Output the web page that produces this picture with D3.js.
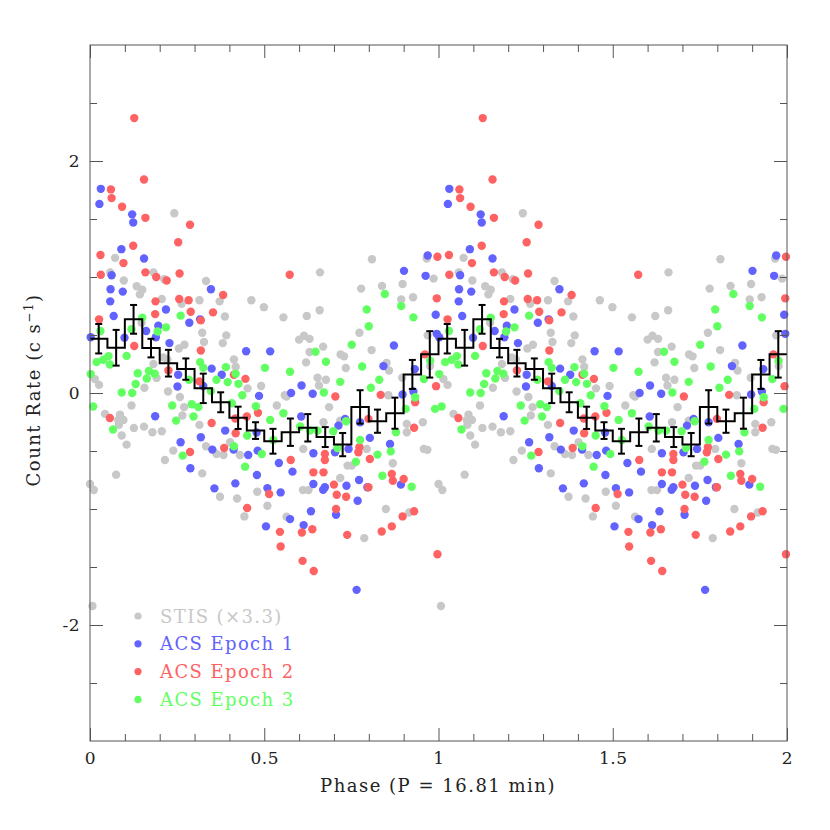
<!DOCTYPE html>
<meta charset="utf-8">
<head>
<style>
body{margin:0;background:#fff;}
text{font-family:"DejaVu Serif",serif;}
.tick line{stroke:#555;}
.tick text{font-size:17px;fill:#222;letter-spacing:0.5px;}
.frame{fill:none;stroke:#555;stroke-width:1;}
.hist{fill:none;stroke:#000;stroke-width:2;}
.err{stroke:#000;stroke-width:2;}
.lab{font-size:18px;fill:#222;letter-spacing:1.5px;}
.leg{font-size:18px;letter-spacing:1.4px;}
</style>
</head>
<body>
<script src="https://d3js.org/d3.v7.min.js"></script>
<script>

// phase-folded points for one cycle, [phase, count rate]; drawn twice (phase and phase+1)
var stis=[[0.242,1.55],[0.072,1.165],[0.097,0.97],[0.182,1.04],[0.213,0.98],[0.333,0.966],[0.058,1.04],
[0.134,0.92],[0.150,0.89],[0.143,0.85],[0.206,0.81],[0.314,0.80],[0.372,0.79],[0.463,0.80],[0.499,0.74],
[0.263,0.77],[0.387,0.66],[0.322,0.52],[0.391,0.497],[0.327,0.44],[0.381,0.43],[0.271,0.416],[0.255,0.384],
[0.413,0.29],[0.418,0.226],[0.222,0.29],[0.182,0.25],[0.191,0.13],[0.21,0.307],[0.014,0.12],[0.026,0.07],
[0.156,0.045],[0.452,0.04],[0.491,0.06],[0.224,0.013],[0.258,-0.035],[0.148,0.606],
[0.043,-0.18],[0.086,-0.186],[0.081,-0.232],[0.096,-0.232],[0.083,-0.275],[0.126,-0.301],[0.155,-0.29],
[0.179,-0.338],[0.206,-0.33],[0.091,-0.367],[0.105,-0.445],[0.119,-0.108],[0.27,-0.122],[0.265,-0.194],
[0.314,-0.275],[0.333,-0.459],[0.363,-0.526],[0.383,-0.534],[0.239,-0.497],[0.215,-0.577],[0.402,-0.425],
[0.43,-0.534],[0.075,-0.704],[0.0,-0.785],[0.011,-0.836],[0.322,-0.693],[0.373,-0.894],[0.422,-0.909],
[0.443,-1.064],[0.48,-0.851],[0.007,-1.836],
[0.809,1.153],[0.66,1.04],[0.555,0.652],[0.622,0.664],[0.659,0.713],[0.778,0.9],[0.838,0.923],[0.897,0.94],
[0.893,0.807],[0.927,0.825],[0.986,0.986],[0.966,1.16],[0.6,0.46],[0.614,0.494],[0.63,0.467],[0.669,0.4],
[0.773,0.52],[0.808,0.37],[0.63,0.353],[0.62,0.264],[0.719,0.332],[0.729,0.316],[0.734,0.215],[0.851,0.26],
[0.858,0.194],[0.653,0.131],[0.677,0.114],[0.657,0.065],[0.559,-0.02],[0.896,0.131],[0.969,0.497],
[0.976,0.232],[0.856,-0.02],
[0.564,-0.03],[0.536,-0.108],[0.686,-0.122],[0.67,-0.252],[0.612,-0.482],[0.718,-0.238],[0.794,-0.482],
[0.739,-0.626],[0.751,-0.626],[0.718,-0.733],[0.611,-0.837],[0.627,-0.837],[0.509,-0.972],[0.564,-1.067],
[0.787,-1.251],[0.849,-1.0],[0.916,-1.03],[0.869,-0.606],[0.909,-0.266],[0.909,-0.338],[0.958,-0.482],
[0.968,-0.49],[0.955,-0.252]];

var acs1=[[0.031,1.76],[0.027,1.63],[0.121,1.54],[0.124,1.47],[0.090,1.24],[0.155,1.16],[0.062,1.015],
[0.059,0.894],[0.094,0.874],[0.058,0.79],[0.347,0.894],[0.218,0.72],[0.068,0.664],[0.285,0.606],[0.316,0.635],
[0.161,0.535],[0.196,0.58],[0.002,0.48],[0.099,0.477],[0.228,0.43],[0.448,0.36],[0.349,0.21],[0.253,0.157],
[0.378,0.157],[0.251,0.056],[0.325,0.06],[0.485,-0.025],[0.189,0.48],
[0.187,-0.2],[0.388,-0.324],[0.26,-0.425],[0.318,-0.382],[0.351,-0.488],[0.412,-0.488],[0.454,-0.534],
[0.478,-0.341],[0.481,-0.497],[0.288,-0.649],[0.479,-0.707],[0.417,-0.779],[0.357,-0.822],[0.505,-1.15],
[0.969,1.185],[0.901,1.053],[0.963,1.01],[0.992,0.675],[0.995,0.51],[0.517,0.359],[0.872,0.41],[0.842,0.232],
[0.932,0.206],[0.607,0.065],[0.577,0.0],[0.639,-0.007],[0.897,-0.013],[0.928,0.013],
[0.606,-0.203],[0.713,-0.281],[0.732,-0.223],[0.775,-0.252],[0.803,-0.387],[0.861,-0.44],[0.742,-0.482],
[0.703,-0.511],[0.641,-0.52],[0.542,-0.603],[0.581,-0.678],[0.772,-0.75],[0.796,-0.813],[0.736,-0.799],
[0.674,-0.813],[0.669,-0.834],[0.641,-0.785],[0.892,-0.79],[0.509,-0.82],[0.547,-0.857],[0.768,-0.929],
[0.634,-1.02],[0.706,-1.05],[0.574,-1.087],[0.613,-1.139],[0.765,-1.697]];

var acs2=[[0.127,2.37],[0.155,1.84],[0.060,1.755],[0.062,1.68],[0.092,1.605],[0.159,1.51],[0.287,1.45],
[0.253,1.30],[0.124,1.27],[0.030,1.19],[0.096,1.12],[0.031,1.02],[0.159,1.04],[0.190,1.00],[0.220,0.97],
[0.257,1.03],[0.188,0.79],[0.256,0.81],[0.283,0.80],[0.289,0.70],[0.353,0.695],[0.382,0.845],[0.187,0.68],
[0.026,0.635],[0.318,0.626],[0.127,0.405],[0.318,0.367],[0.225,0.194],[0.413,0.157],[0.446,0.122],[0.314,0.10],
[0.057,-0.215],[0.349,-0.258],[0.45,-0.203],[0.482,-0.171],[0.417,-0.22],[0.418,-0.347],[0.287,-0.508],
[0.385,-0.474],[0.451,-0.992],
[0.573,1.02],[0.997,1.174],[0.995,0.816],[0.704,-0.03],[0.834,-0.016],[0.993,0.059],[0.961,0.333],
[0.933,-0.079],[0.799,-0.223],[0.773,-0.468],[0.77,-0.511],[0.674,-0.526],[0.674,-0.577],[0.803,-0.569],
[0.576,-0.577],[0.641,-0.684],[0.670,-0.684],[0.7,-0.79],[0.514,-0.871],[0.708,-0.877],[0.735,-0.894],
[0.799,-0.813],[0.866,-0.698],[0.869,-0.756],[0.9,-0.742],[0.706,-1.0],[0.93,-1.02],[0.897,-1.064],
[0.866,-1.15],[0.837,-1.194],[0.738,-1.223],[0.638,-1.174],[0.608,-1.202],[0.545,-1.197],[0.547,-1.323],
[0.61,-1.447],[0.642,-1.534],[0.997,-1.39],[0.93,-0.3]];

var acs3=[[0.26,0.667],[0.150,0.65],[0.218,0.566],[0.194,0.53],[0.119,0.55],[0.030,0.535],[0.105,0.32],
[0.019,0.266],[0.038,0.287],[0.053,0.318],[0.057,0.246],[0.002,0.163],[0.137,0.17],[0.169,0.19],[0.186,0.166],
[0.163,0.125],[0.131,0.077],[0.091,0.004],[0.121,0.0],[0.316,0.266],[0.325,0.217],[0.39,0.223],[0.363,0.114],
[0.395,0.094],[0.426,0.079],[0.418,0.166],[0.502,0.217],[0.437,-0.02],[0.347,0.016],[0.284,0.114],
[0.009,-0.117],[0.236,-0.108],[0.292,-0.097],[0.311,-0.122],[0.297,-0.203],[0.247,-0.238],[0.066,-0.315],
[0.266,-0.54],[0.413,-0.459],[0.445,-0.635],[0.451,-0.367],[0.476,-0.114],[0.407,-0.088],[0.493,-0.526],
[0.846,0.854],[0.794,0.72],[0.893,0.75],[0.928,0.652],[0.8,0.575],[0.751,0.416],[0.647,0.356],[0.574,0.183],
[0.677,0.269],[0.781,0.229],[0.718,0.096],[0.83,0.114],[0.806,0.045],[0.958,0.12],[0.976,0.278],[0.671,0.004],
[0.933,-0.036],
[0.526,-0.405],[0.555,-0.174],[0.517,-0.232],[0.603,-0.289],[0.631,-0.324],[0.653,-0.324],[0.698,-0.33],
[0.735,-0.243],[0.71,-0.474],[0.775,-0.405],[0.763,-0.593],[0.825,-0.531],[0.863,-0.503],[0.839,-0.713],
[0.923,-0.808],[0.878,-0.338],[0.906,-0.137],[0.99,-0.137]];

// binned light curve, 20 bins of 0.05 in phase
var binRate=[0.468,0.39,0.635,0.387,0.257,0.206,0.04,-0.08,-0.214,-0.324,-0.416,-0.338,-0.30,-0.38,-0.445,-0.12,-0.243,-0.174,0.16,0.333];
var binErr=[0.127,0.154,0.124,0.08,0.115,0.092,0.127,0.086,0.096,0.072,0.107,0.118,0.118,0.086,0.1,0.144,0.1,0.134,0.125,0.2];

var seriesNames=["STIS (\u00d73.3)","ACS Epoch 1","ACS Epoch 2","ACS Epoch 3"];
var seriesColors=["#c8c8c8","#6262ff","#ff6262","#62ff62"];
var seriesData=[stis,acs1,acs2,acs3];

var W=830,H=830;
var x=d3.scaleLinear().domain([0,2]).range([90,787]);
var y=d3.scaleLinear().domain([-3,3]).range([741,45]);

var svg=d3.select("body").append("svg").attr("width",W).attr("height",H);

// points, two cycles
seriesData.forEach(function(s,i){
	var pts=s.map(d=>[d[0],d[1]]).concat(s.map(d=>[d[0]+1,d[1]]));
	svg.append("g").selectAll("circle").data(pts).join("circle")
		.attr("cx",d=>x(d[0])).attr("cy",d=>y(d[1])).attr("r",4.2)
		.attr("fill",seriesColors[i]);
});

// histogram
var bins=[];
[0,1].forEach(function(c){
	binRate.forEach(function(v,i){ bins.push({x0:c+i*0.05,v:v,e:binErr[i]}); });
});
var stepPts=bins.map(b=>[b.x0,b.v]);
stepPts.push([2,binRate[binRate.length-1]]);
svg.append("path").attr("class","hist")
	.attr("d",d3.line().x(d=>x(d[0])).y(d=>y(d[1])).curve(d3.curveStepAfter)(stepPts));

var eb=svg.append("g").selectAll("g").data(bins).join("g")
	.attr("transform",d=>"translate("+x(d.x0+0.025)+",0)");
eb.append("line").attr("class","err").attr("y1",d=>y(d.v-d.e)).attr("y2",d=>y(d.v+d.e));
eb.append("line").attr("class","err").attr("x1",-3.5).attr("x2",3.5).attr("y1",d=>y(d.v-d.e)).attr("y2",d=>y(d.v-d.e));
eb.append("line").attr("class","err").attr("x1",-3.5).attr("x2",3.5).attr("y1",d=>y(d.v+d.e)).attr("y2",d=>y(d.v+d.e));

// axes, ticks inward on all sides
var yMajor=[-2,0,2], yMinor=d3.range(-2.5,3,0.5).filter(v=>yMajor.indexOf(v)<0);
var xMajor=[0,0.5,1,1.5,2], xMinor=d3.range(0.1,2,0.1).filter(v=>Math.abs(v*2-Math.round(v*2))>1e-6);
var fmt=d=>String(+d.toFixed(1));

function ax(a,tr){ var g=svg.append("g").attr("transform",tr).call(a); g.select(".domain").remove(); return g; }
ax(d3.axisLeft(y).tickValues(yMajor).tickSize(-13).tickPadding(10).tickFormat(fmt),"translate(90,0)");
ax(d3.axisLeft(y).tickValues(yMinor).tickSize(-7).tickFormat(""),"translate(90,0)");
ax(d3.axisRight(y).tickValues(yMajor).tickSize(-13).tickFormat(""),"translate(787,0)");
ax(d3.axisRight(y).tickValues(yMinor).tickSize(-7).tickFormat(""),"translate(787,0)");
ax(d3.axisBottom(x).tickValues(xMajor).tickSize(-13).tickPadding(11).tickFormat(fmt),"translate(0,741)");
ax(d3.axisBottom(x).tickValues(xMinor).tickSize(-7).tickFormat(""),"translate(0,741)");
ax(d3.axisTop(x).tickValues(xMajor).tickSize(-13).tickFormat(""),"translate(0,45)");
ax(d3.axisTop(x).tickValues(xMinor).tickSize(-7).tickFormat(""),"translate(0,45)");

svg.append("rect").attr("class","frame").attr("x",90).attr("y",45).attr("width",697).attr("height",696);

// axis titles
svg.append("text").attr("class","lab").attr("x",438).attr("y",792).attr("text-anchor","middle")
	.text("Phase (P = 16.81 min)");
var yl=svg.append("text").attr("class","lab").attr("text-anchor","middle")
	.attr("transform","translate(40,390) rotate(-90)");
yl.append("tspan").text("Count Rate (c s");
yl.append("tspan").attr("dy",-7).attr("font-size",12).text("\u22121");
yl.append("tspan").attr("dy",7).text(")");

// legend
var lg=svg.append("g").selectAll("g").data(seriesNames).join("g")
	.attr("transform",(d,i)=>"translate(138,"+(616+i*27.8)+")");
lg.append("circle").attr("r",3.6).attr("fill",(d,i)=>seriesColors[i]);
lg.append("text").attr("class","leg").attr("x",22).attr("y",6.5)
	.attr("fill",(d,i)=>seriesColors[i]).text(d=>d);
</script>
</body>
</html>
